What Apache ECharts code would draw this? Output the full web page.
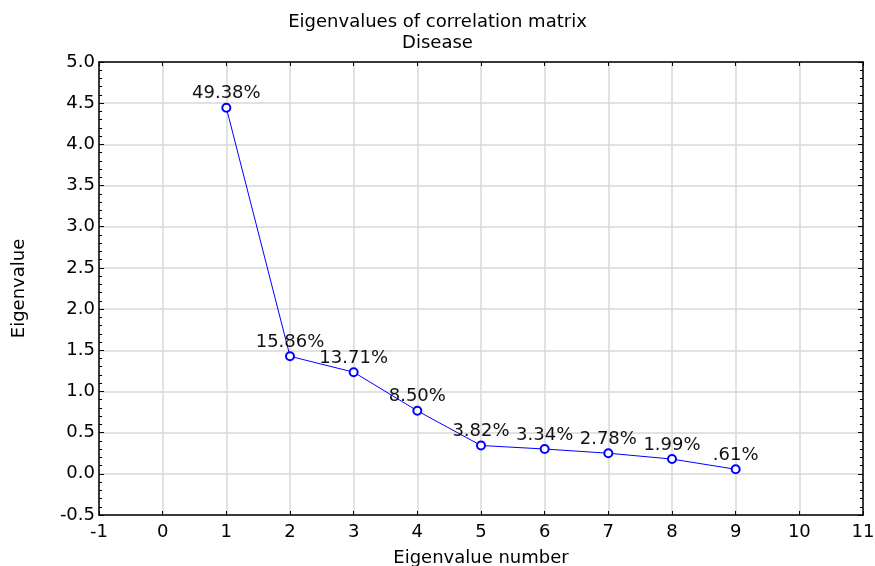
<!DOCTYPE html>
<html>
<head>
<meta charset="utf-8">
<script src="https://cdn.jsdelivr.net/npm/echarts@6/dist/echarts.min.js"></script>
<style>html,body{margin:0;padding:0;background:#fff}#c{width:875px;height:566px}</style>
</head>
<body>
<div id="c"></div>
<script>
const eigenNumbers = [1, 2, 3, 4, 5, 6, 7, 8, 9];
const eigenValues = [4.444, 1.427, 1.234, 0.765, 0.344, 0.301, 0.250, 0.179, 0.055];
const percentLabels = ['49.38%', '15.86%', '13.71%', '8.50%', '3.82%', '3.34%', '2.78%', '1.99%', '.61%'];

const font = 'DejaVu Sans, Liberation Sans, Arial, sans-serif';
const chart = echarts.init(document.getElementById('c'));
const data = eigenNumbers.map((n, i) => [n, eigenValues[i]]);

chart.setOption({
  animation: false,
  backgroundColor: '#fff',
  title: {
    text: 'Eigenvalues of correlation matrix',
    subtext: 'Disease',
    left: 'center',
    top: 8,
    itemGap: 3,
    textStyle: { fontFamily: font, fontSize: 18, fontWeight: 'normal', color: '#000' },
    subtextStyle: { fontFamily: font, fontSize: 18, color: '#000' }
  },
  grid: { left: 99, right: 12, top: 62, bottom: 51, containLabel: false, outerBoundsMode: 'none' },
  xAxis: [
    {
      type: 'value', min: -1, max: 11, interval: 1, position: 'bottom',
      name: 'Eigenvalue number', nameLocation: 'middle', nameGap: 34,
      nameTextStyle: { fontFamily: font, fontSize: 18, color: '#000' },
      axisLine: { onZero: false, lineStyle: { color: '#000', width: 1.5 } },
      axisTick: { inside: true, length: 4, lineStyle: { color: '#000' } },
      axisLabel: { fontFamily: font, fontSize: 18, color: '#000', margin: 8 },
      splitLine: { show: true, lineStyle: { color: '#d8d8d8', width: 1.5 } }
    },
    {
      type: 'value', min: -1, max: 11, interval: 1, position: 'top',
      axisLine: { show: true, onZero: false, lineStyle: { color: '#000', width: 1.5 } },
      axisTick: { show: true, inside: true, length: 4, lineStyle: { color: '#000' } },
      axisLabel: { show: false },
      splitLine: { show: false }
    }
  ],
  yAxis: [
    {
      type: 'value', min: -0.5, max: 5, interval: 0.5, position: 'left',
      name: 'Eigenvalue', nameLocation: 'middle', nameGap: 71, nameRotate: 90,
      nameTextStyle: { fontFamily: font, fontSize: 18, color: '#000' },
      axisLine: { show: true, onZero: false, lineStyle: { color: '#000', width: 1.5 } },
      axisTick: { show: true, inside: true, length: 5, lineStyle: { color: '#000' } },
      minorTick: { show: true, splitNumber: 5, length: 3, lineStyle: { color: '#000' } },
      axisLabel: { fontFamily: font, fontSize: 18, color: '#000', margin: 4,
        formatter: v => v.toFixed(1) },
      splitLine: { show: true, lineStyle: { color: '#d8d8d8', width: 1.5 } }
    },
    {
      type: 'value', min: -0.5, max: 5, interval: 0.5, position: 'right',
      axisLine: { show: true, onZero: false, lineStyle: { color: '#000', width: 1.5 } },
      axisTick: { show: true, inside: true, length: 5, lineStyle: { color: '#000' } },
      minorTick: { show: true, splitNumber: 5, length: 3, lineStyle: { color: '#000' } },
      axisLabel: { show: false },
      splitLine: { show: false }
    }
  ],
  series: [{
    type: 'line',
    xAxisIndex: 0, yAxisIndex: 0,
    data: data,
    symbol: 'emptyCircle',
    symbolSize: 8,
    lineStyle: { color: '#0000ff', width: 1 },
    itemStyle: { color: '#0000ff', borderColor: '#0000ff', borderWidth: 1 },
    label: {
      show: true, position: 'top', distance: 0,
      fontFamily: font, fontSize: 18, color: '#111',
      formatter: p => percentLabels[p.dataIndex]
    }
  }]
});
</script>
</body>
</html>
